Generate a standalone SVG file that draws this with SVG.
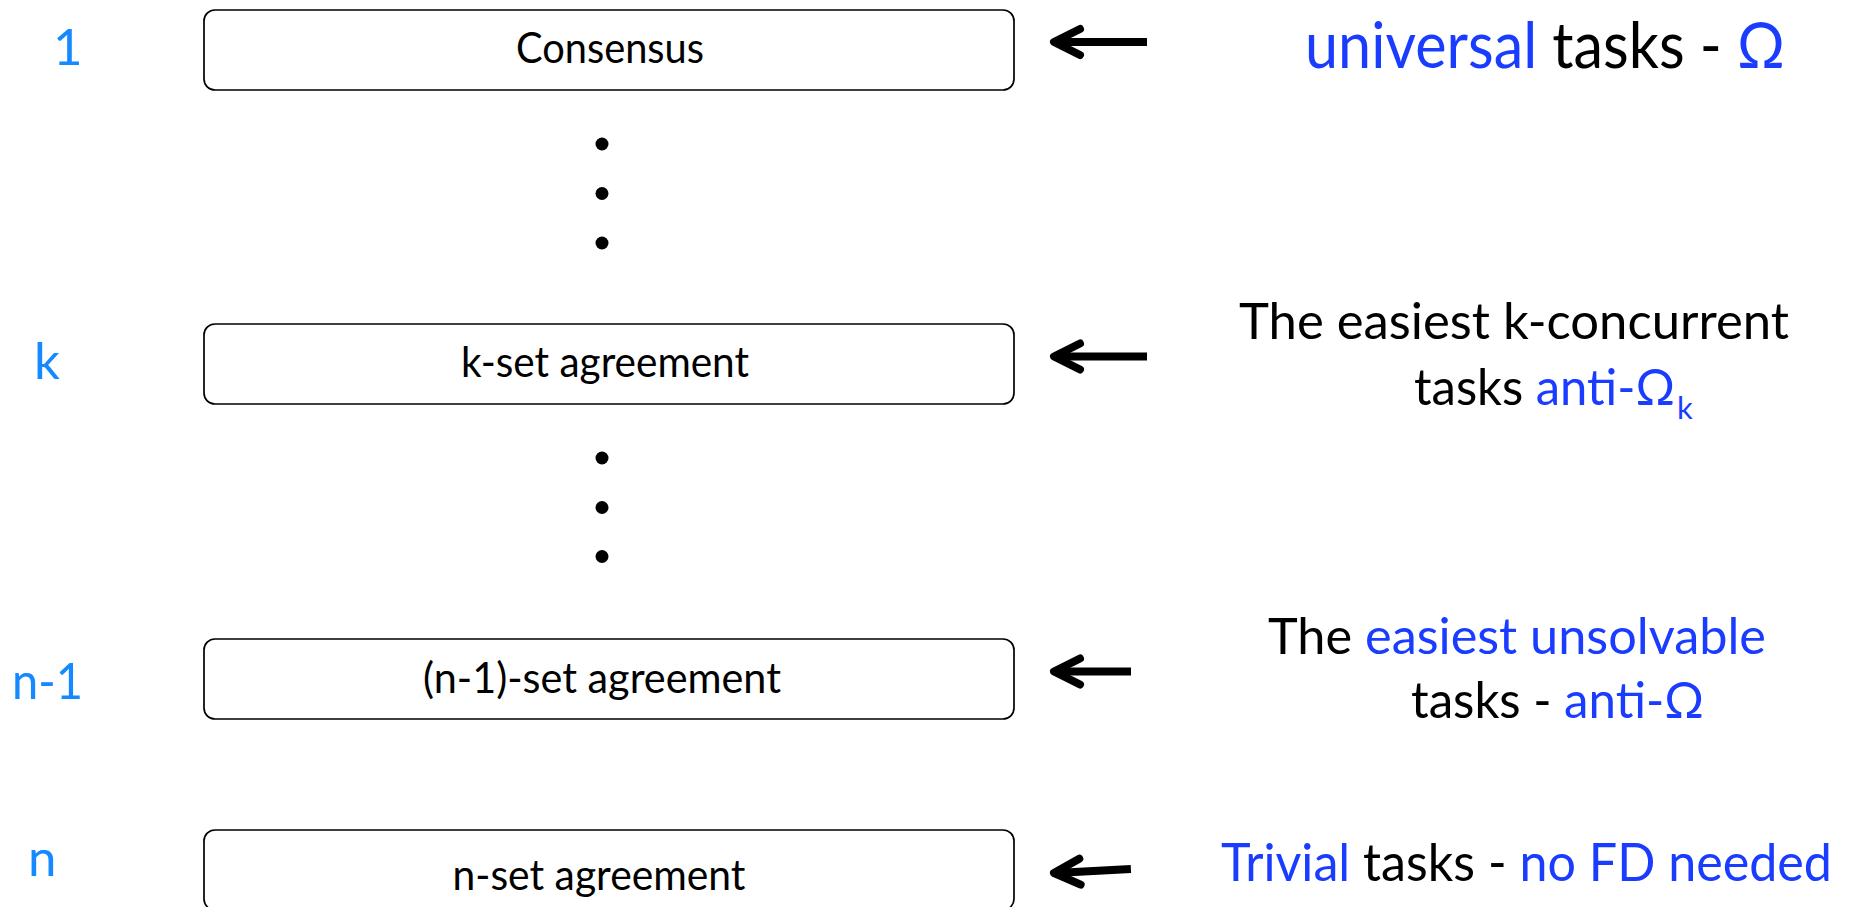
<svg xmlns="http://www.w3.org/2000/svg" width="1856" height="907" viewBox="0 0 1856 907">
<style>
text{font-family:Lato,"Open Sans","Noto Sans",sans-serif}
.box{fill:#fff;stroke:#000;stroke-width:1.7}
.bt{font-size:43px;fill:#000;text-anchor:middle}
.num{font-size:51px;fill:#1589ff}
.rt{font-size:51px;fill:#000}
.b{fill:#1a3cff}
.arr{fill:none;stroke:#000;stroke-width:8;stroke-linecap:round;stroke-linejoin:round}
.shaft{fill:none;stroke:#000;stroke-width:8}
.dot{fill:#000}
</style>
<rect width="1856" height="907" fill="#fff"/>

<g id="node-consensus">
<rect class="box" x="204" y="10" width="810" height="80" rx="11"/>
<text class="bt" x="610" y="63" textLength="188" lengthAdjust="spacingAndGlyphs">Consensus</text>
</g>
<g id="node-kset">
<rect class="box" x="204" y="324" width="810" height="80" rx="11"/>
<text class="bt" x="605" y="377" textLength="288" lengthAdjust="spacingAndGlyphs">k-set agreement</text>
</g>
<g id="node-n1set">
<rect class="box" x="204" y="639" width="810" height="80" rx="11"/>
<text class="bt" x="602" y="693" textLength="358" lengthAdjust="spacingAndGlyphs">(n-1)-set agreement</text>
</g>
<g id="node-nset">
<rect class="box" x="204" y="830" width="810" height="80" rx="11"/>
<text class="bt" x="599" y="890" textLength="293" lengthAdjust="spacingAndGlyphs">n-set agreement</text>
</g>

<g id="levels">
<text class="num" x="53" y="65">1</text>
<text class="num" x="34" y="379">k</text>
<text class="num" x="12" y="699" textLength="71" lengthAdjust="spacingAndGlyphs">n-1</text>
<text class="num" x="28" y="876">n</text>
</g>

<g id="dots">
<circle class="dot" cx="602" cy="144" r="6.5"/>
<circle class="dot" cx="602" cy="193.5" r="6.5"/>
<circle class="dot" cx="602" cy="243" r="6.5"/>
<circle class="dot" cx="602" cy="458" r="6.5"/>
<circle class="dot" cx="602" cy="507.5" r="6.5"/>
<circle class="dot" cx="602" cy="556.5" r="6.5"/>
</g>

<g id="connectors">
<path class="shaft" d="M1056,42 H1147"/>
<path class="arr" d="M1080,29 L1054,42 L1080,55"/>
<path class="shaft" d="M1056,356.5 H1147"/>
<path class="arr" d="M1080,343.5 L1054,356.5 L1080,369.5"/>
<path class="shaft" d="M1056,671.5 H1131"/>
<path class="arr" d="M1080,658.5 L1054,671.5 L1080,684.5"/>
<g transform="rotate(-3 1054 873)">
<path class="shaft" d="M1056,873 H1131"/>
<path class="arr" d="M1080,860 L1054,873 L1080,886"/>
</g>
</g>

<g id="label-universal">
<text class="rt" x="1305" y="68" style="font-size:63px" textLength="480" lengthAdjust="spacingAndGlyphs"><tspan class="b">universal</tspan> tasks - <tspan class="b">Ω</tspan></text>
</g>
<g id="label-kconcurrent">
<text class="rt" x="1239" y="339" textLength="550" lengthAdjust="spacingAndGlyphs">The easiest k-concurrent</text>
<text class="rt" x="1414" y="405" textLength="261" lengthAdjust="spacingAndGlyphs">tasks <tspan class="b">anti-Ω</tspan></text>
<text class="b" x="1677" y="419" style="font-size:31px">k</text>
</g>
<g id="label-unsolvable">
<text class="rt" x="1268" y="654" textLength="498" lengthAdjust="spacingAndGlyphs">The <tspan class="b">easiest unsolvable</tspan></text>
<text class="rt" x="1411" y="718" textLength="293" lengthAdjust="spacingAndGlyphs">tasks - <tspan class="b">anti-Ω</tspan></text>
</g>
<g id="label-trivial">
<text class="rt" x="1221" y="881" style="font-size:52px" textLength="611" lengthAdjust="spacingAndGlyphs"><tspan class="b">Trivial</tspan> tasks - <tspan class="b">no FD needed</tspan></text>
</g>
</svg>
